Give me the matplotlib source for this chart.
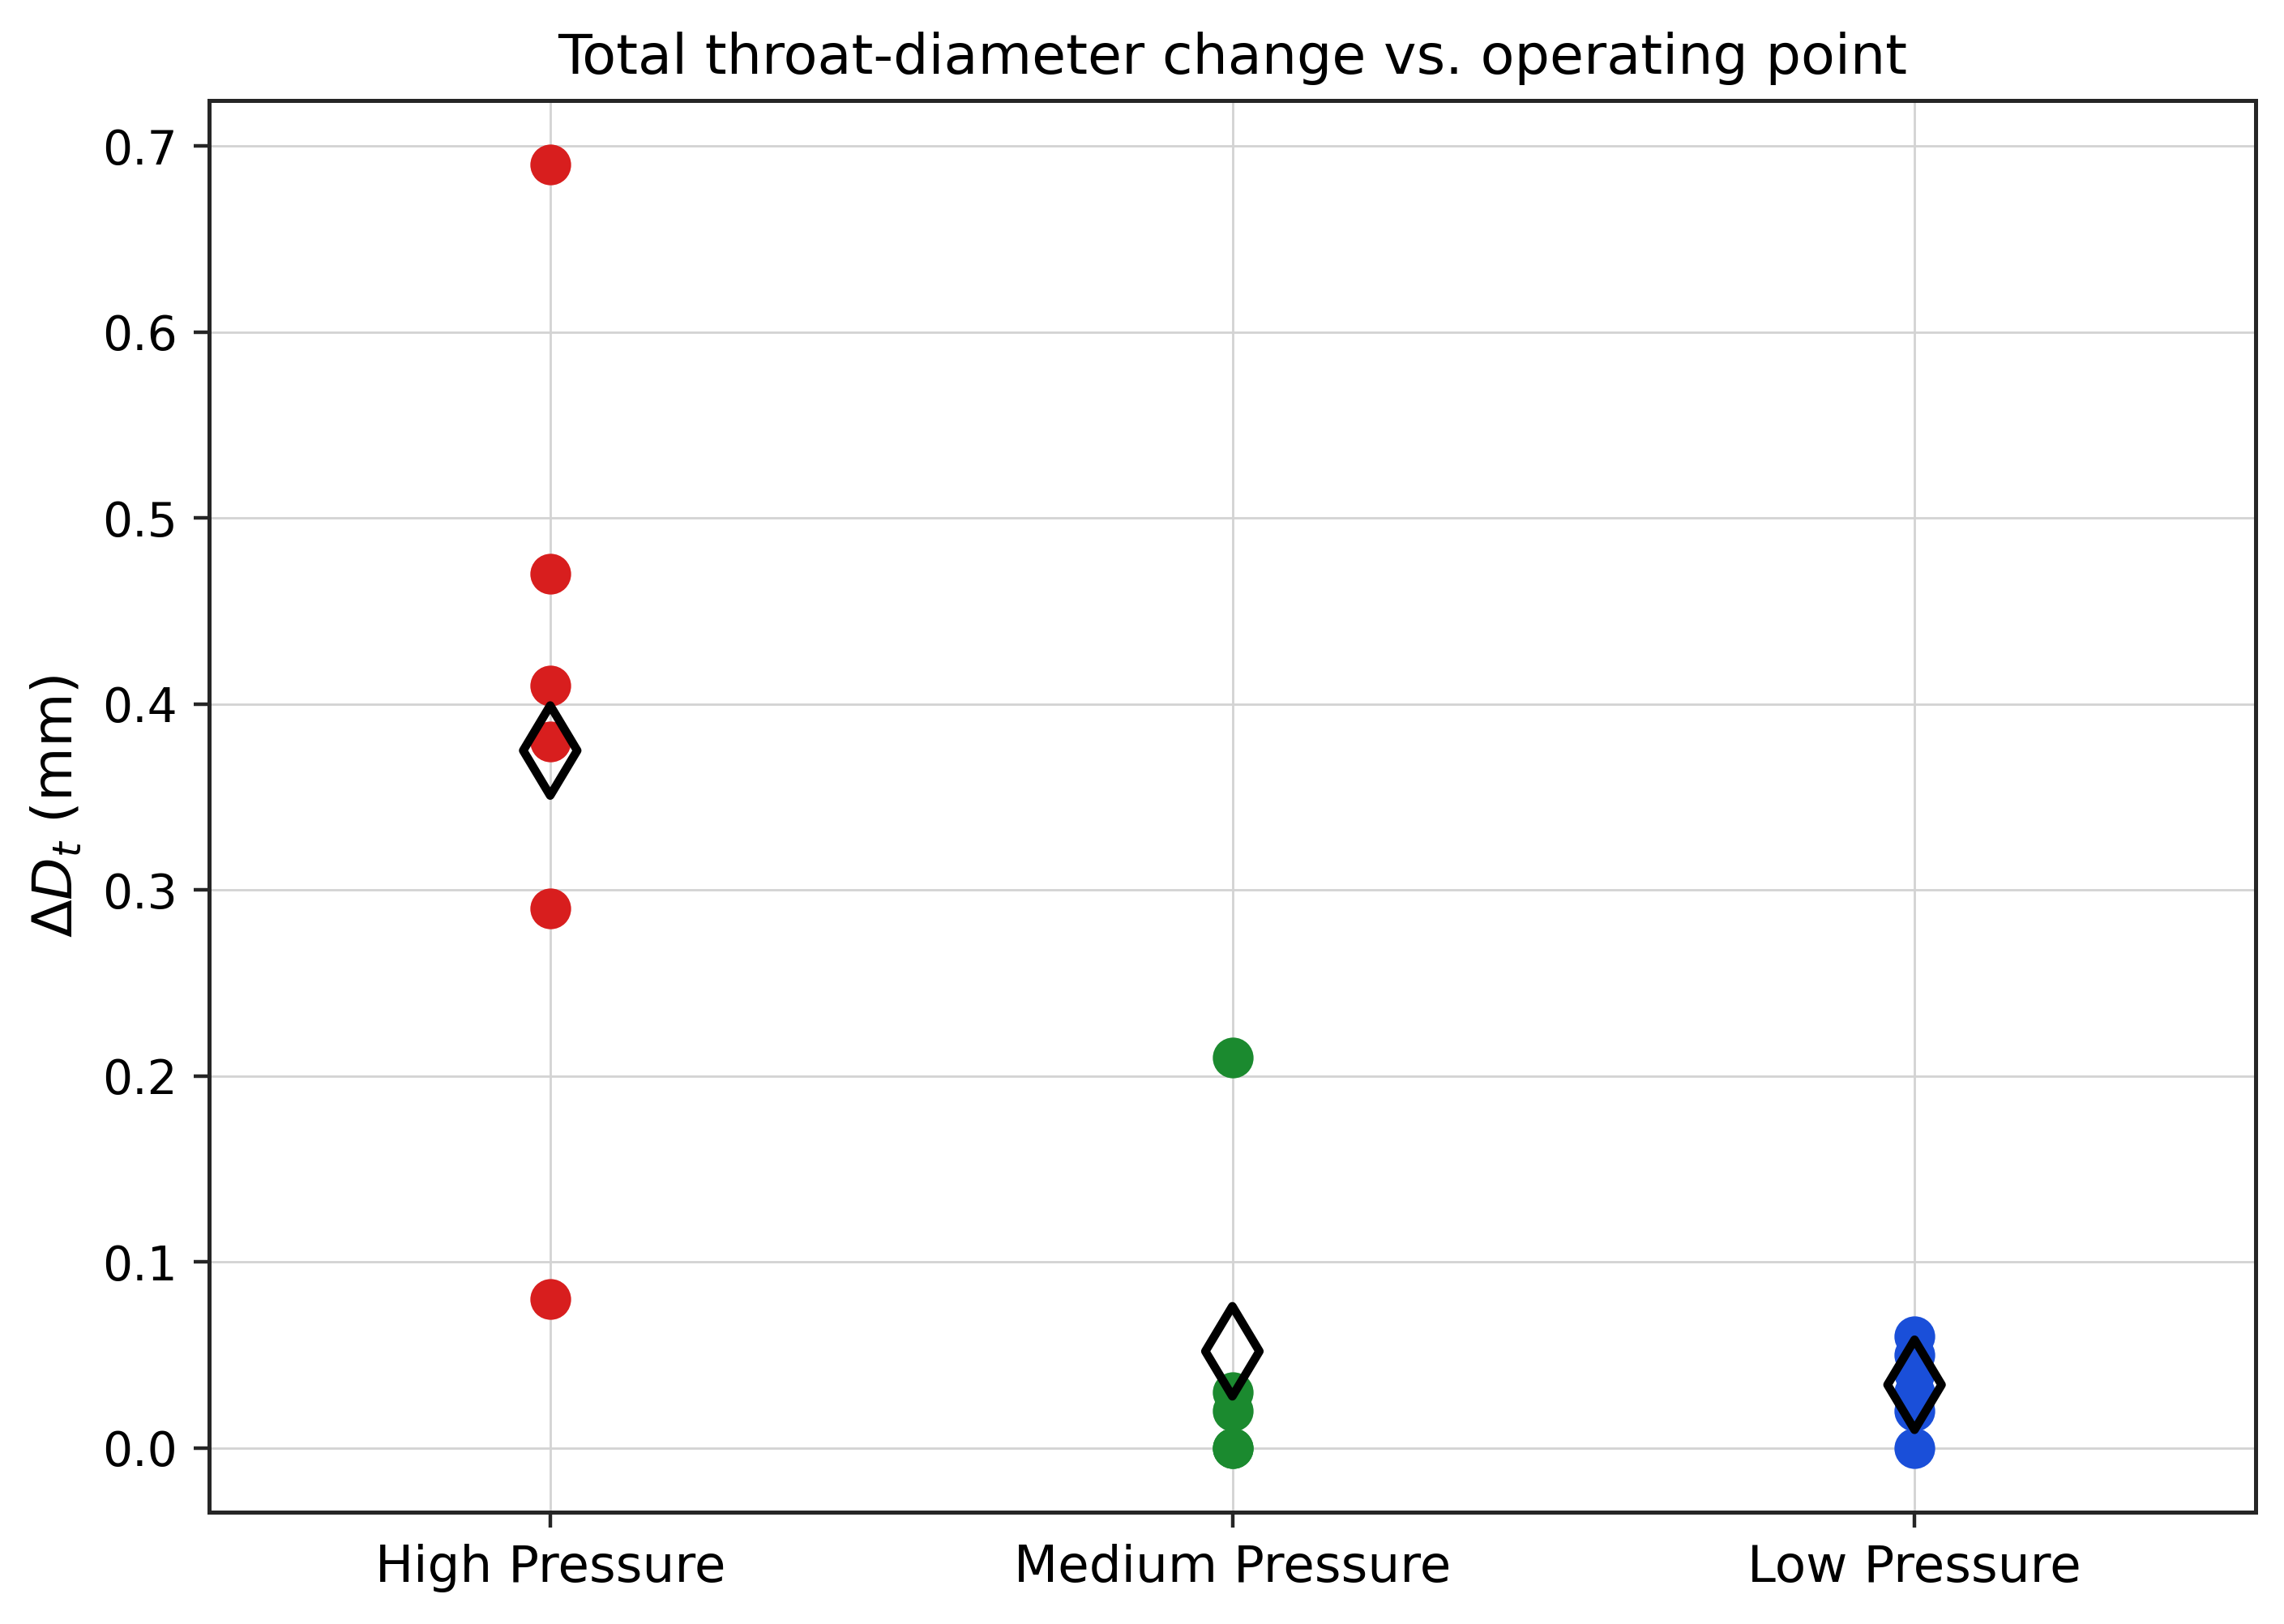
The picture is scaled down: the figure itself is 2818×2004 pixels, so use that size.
import matplotlib
matplotlib.use("Agg")
import matplotlib.pyplot as plt

categories = ["High Pressure", "Medium Pressure", "Low Pressure"]
high_values = [0.69, 0.47, 0.41, 0.38, 0.29, 0.08]
medium_values = [0.21, 0.03, 0.02, 0.0, 0.0]
low_values = [0.06, 0.05, 0.04, 0.03, 0.02, 0.0]
mean_values = [0.375, 0.052, 0.034]
point_colors = ["#d81e1e", "#1b8a2f", "#1a4fd9"]

groups = [high_values, medium_values, low_values]

DPI = 400
fig = plt.figure(figsize=(2818 / DPI, 2004 / DPI), dpi=DPI)
ax = fig.add_axes([258 / 2818, 1 - 1866 / 2004, (2783 - 258) / 2818, (1866 - 124) / 2004])

for i, (vals, col) in enumerate(zip(groups, point_colors)):
    ax.scatter([i] * len(vals), vals, s=82, color=col, zorder=3, linewidths=0)

ax.scatter(range(len(categories)), mean_values, marker="d", s=200,
           facecolors="none", edgecolors="black", linewidths=1.9, zorder=4)

ax.set_xticks(range(len(categories)))
ax.set_xticklabels(categories, fontsize=11.3)
ax.tick_params(axis="y", labelsize=10.5)
ax.set_xlim(-0.5, 2.5)
ax.grid(True, color="#d3d3d3", linewidth=0.5)
ax.set_axisbelow(True)
for sp in ax.spines.values():
    sp.set_color("#262626")
    sp.set_linewidth(0.9)
ax.tick_params(colors="#262626", labelcolor="black")

ax.set_ylabel(r"$\Delta D_t$ (mm)", fontsize=12.3)
ax.set_title("Total throat-diameter change vs. operating point", fontsize=12.3, pad=6)

fig.savefig("out.png", dpi=DPI)
